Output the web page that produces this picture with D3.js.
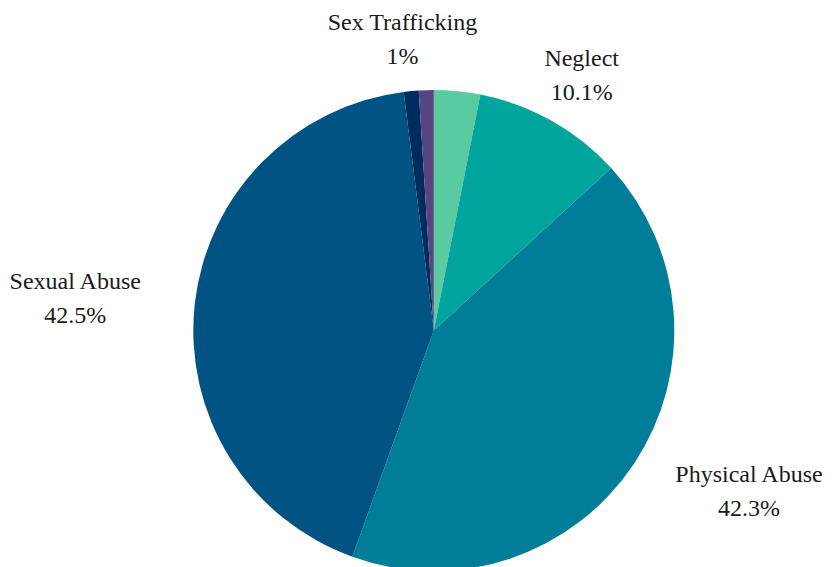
<!DOCTYPE html>
<html><head><meta charset="utf-8">
<script src="https://cdn.jsdelivr.net/npm/d3@7"></script>
<style>html,body{margin:0;padding:0;background:#fff;}svg{display:block;}</style>
</head><body>
<svg id="chart" width="832" height="567"></svg>
<script>
const categories = ["Other", "Neglect", "Physical Abuse", "Sexual Abuse", "Sex Trafficking", "Other 2"];
const values = [3.1, 10.1, 42.3, 42.5, 1.0, 1.0];
const shownLabels = ["", "Neglect", "Physical Abuse", "Sexual Abuse", "Sex Trafficking", ""];
const valueLabels = ["", "10.1%", "42.3%", "42.5%", "1%", ""];
const colors = ["#5ACBA0", "#02A59E", "#007E99", "#015384", "#002B5E", "#564580"];

const W = 832, H = 567;
const cx = 433.8, cy = 330.5, r = 240.5;
const svg = d3.select("#chart");
const g = svg.append("g").attr("transform", `translate(${cx},${cy})`);

const data = categories.map((c, i) => ({name: c, value: values[i], label: shownLabels[i], vlabel: valueLabels[i], color: colors[i]}));
const pie = d3.pie().value(d => d.value).sort(null);
const arc = d3.arc().innerRadius(0).outerRadius(r);
const arcs = pie(data);

g.selectAll("path").data(arcs).join("path")
  .attr("d", arc)
  .attr("fill", d => d.data.color);

const labelR = r + 16;
const lab = g.selectAll("text.lab").data(arcs.filter(d => d.data.label)).join("text")
  .attr("class", "lab")
  .attr("text-anchor", "middle")
  .style("font-family", "'Liberation Serif', 'Times New Roman', serif")
  .style("font-size", "24px")
  .attr("fill", "#1a1a1a");

lab.each(function(d) {
  const a = (d.startAngle + d.endAngle) / 2;
  const s = Math.sin(a), c = Math.cos(a);
  const t = d3.select(this);
  const t1 = t.append("tspan").text(d.data.label);
  const t2 = t.append("tspan").text(d.data.vlabel);
  const w = Math.max(t1.node().getComputedTextLength(), t2.node().getComputedTextLength());
  const hw = w / 2, hh = 35;
  const x = s * labelR + s * hw + Math.sign(s) * 42 * s * s * (1 - 0.7 * c);
  const yc = -c * labelR - c * hh;
  t.selectAll("tspan").attr("x", x);
  t1.attr("y", yc - 10);
  t2.attr("y", yc + 24);
});
</script>
</body></html>
